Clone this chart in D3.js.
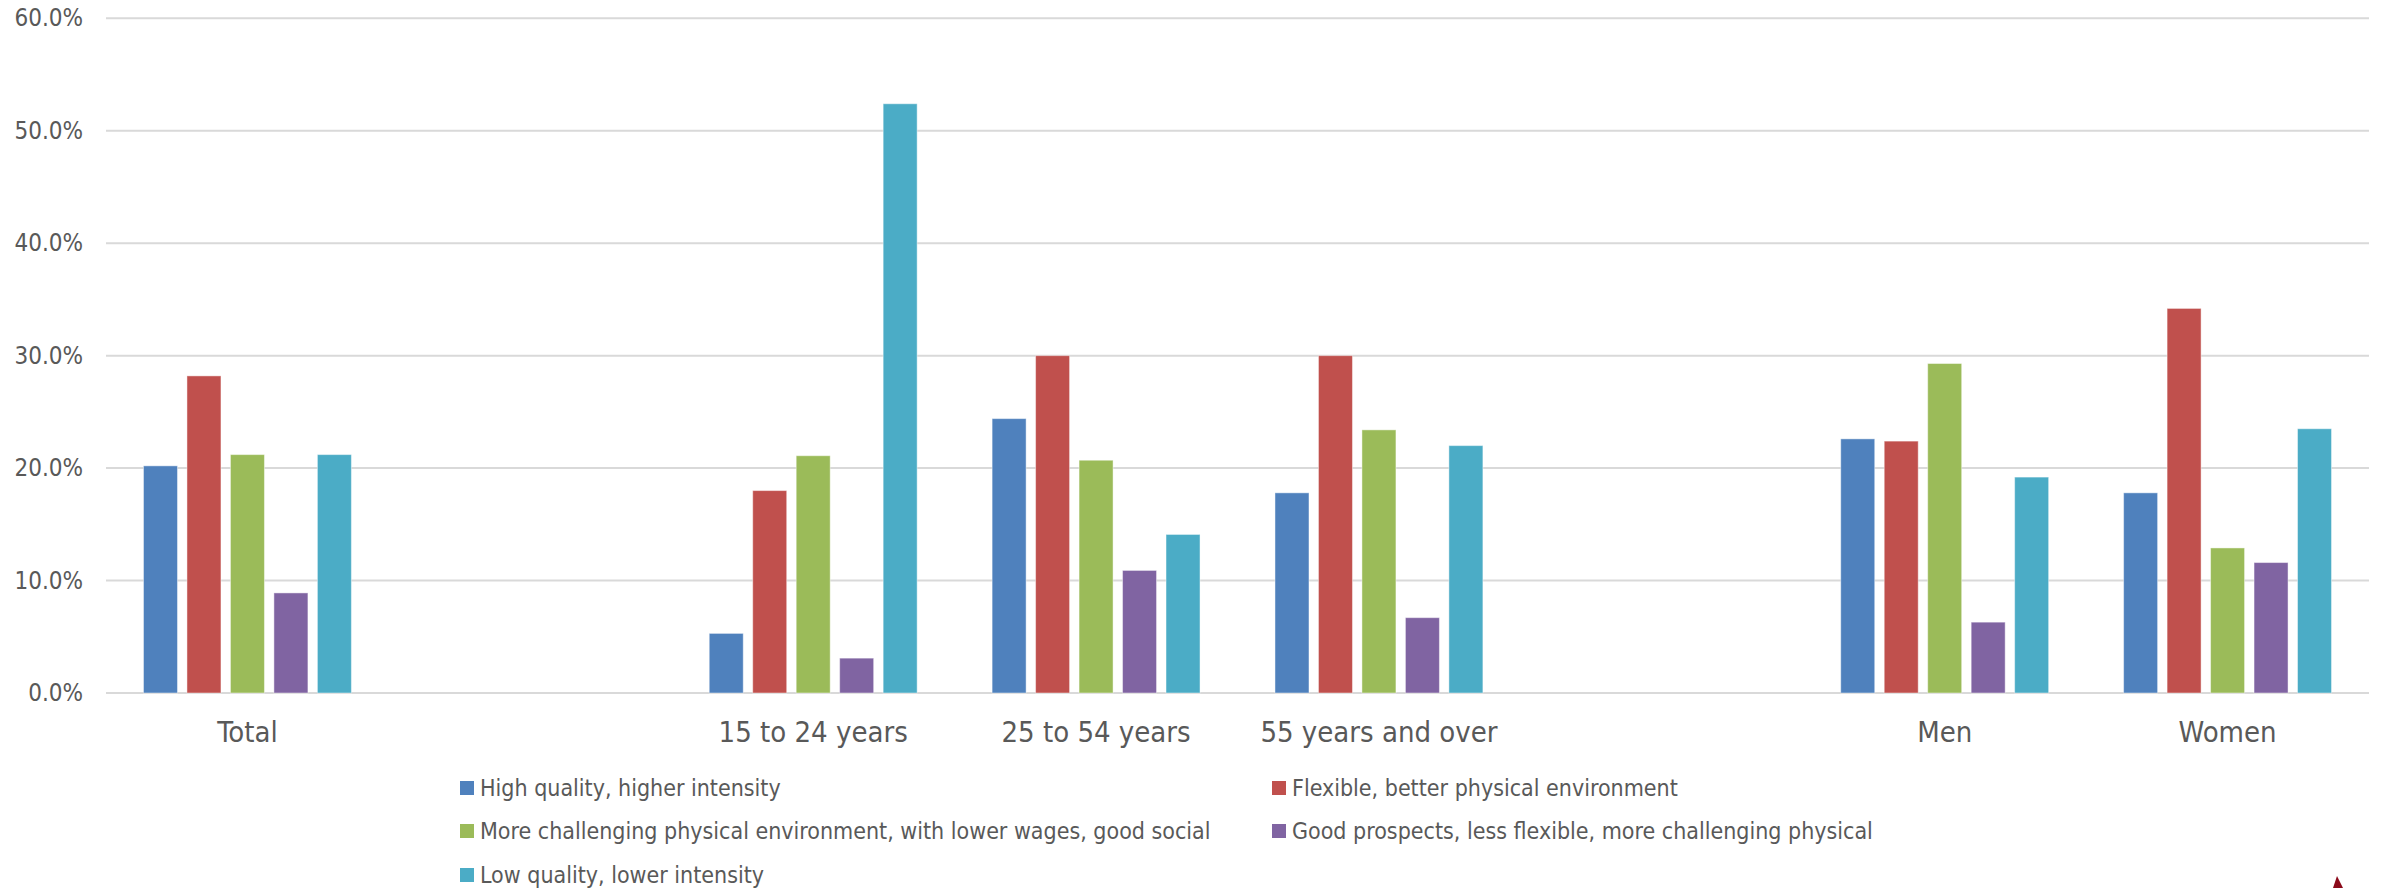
<!DOCTYPE html>
<html>
<head>
<meta charset="utf-8">
<script src="https://cdn.jsdelivr.net/npm/d3@7/dist/d3.min.js"></script>
<style>
  html, body { margin: 0; padding: 0; background: #ffffff; }
  svg { display: block; }
  text { font-family: "DejaVu Sans Condensed", "DejaVu Sans", sans-serif; font-stretch: condensed; fill: #595959; }
</style>
</head>
<body>
<script>
// Job-quality profiles by population group (share of workers, %)
const categories = ["Total", "", "15 to 24 years", "25 to 54 years", "55 years and over", " ", "Men", "Women"];
const seriesNames = [
  "High quality, higher intensity",
  "Flexible, better physical environment",
  "More challenging physical environment, with lower wages, good social",
  "Good prospects, less flexible, more challenging physical",
  "Low quality, lower intensity"
];
const seriesColors = ["#4F81BD", "#C0504D", "#9BBB59", "#8064A2", "#4BACC6"];

// one array per series, aligned with categories (null = empty slot)
const highQuality   = [20.2, null, 5.3, 24.4, 17.8, null, 22.6, 17.8];
const flexible      = [28.2, null, 18.0, 30.0, 30.0, null, 22.4, 34.2];
const challenging   = [21.2, null, 21.1, 20.7, 23.4, null, 29.3, 12.9];
const goodProspects = [8.9, null, 3.1, 10.9, 6.7, null, 6.3, 11.6];
const lowQuality    = [21.2, null, 52.4, 14.1, 22.0, null, 19.2, 23.5];
const seriesValues = [highQuality, flexible, challenging, goodProspects, lowQuality];

const yTicks = [0, 10, 20, 30, 40, 50, 60];

const W = 2384, H = 888;
const plot = { left: 106, right: 2369, top: 18.3, bottom: 693 };

const svg = d3.select("body").append("svg").attr("width", W).attr("height", H);

const x = d3.scaleBand().domain(categories).range([plot.left, plot.right]).paddingInner(0).paddingOuter(0);
const y = d3.scaleLinear().domain([0, 60]).range([plot.bottom, plot.top]);

// inner band for the five series inside each category
const groupWidth = x.bandwidth() * 0.735;
const xs = d3.scaleBand().domain(d3.range(seriesNames.length))
  .range([0, groupWidth]).paddingInner(0.218).paddingOuter(0);

// horizontal gridlines
svg.append("g").selectAll("line").data(yTicks).join("line")
  .attr("x1", plot.left).attr("x2", plot.right)
  .attr("y1", d => y(d)).attr("y2", d => y(d))
  .attr("stroke", "#d9d9d9").attr("stroke-width", 2);

// y axis labels
const yAxis = d3.axisLeft(y).tickValues(yTicks).tickFormat(d => d.toFixed(1) + "%").tickSize(0).tickPadding(0);
const gy = svg.append("g").attr("transform", `translate(${83},0)`).call(yAxis);
gy.select(".domain").remove();
gy.selectAll("text").attr("font-size", 24).attr("fill", "#595959")
  .style("font-family", '"DejaVu Sans Condensed", "DejaVu Sans", sans-serif');

// bars
seriesValues.forEach((vals, si) => {
  svg.append("g").selectAll("rect")
    .data(categories.map((c, i) => ({ c, v: vals[i] })).filter(d => d.v != null))
    .join("rect")
    .attr("x", d => x(d.c) + (x.bandwidth() - groupWidth) / 2 + xs(si))
    .attr("width", xs.bandwidth())
    .attr("y", d => y(d.v))
    .attr("height", d => y(0) - y(d.v))
    .attr("fill", seriesColors[si])
    .attr("stroke", "rgba(255,255,255,0.45)")
    .attr("stroke-width", 1);
});

// category labels
const xAxis = d3.axisBottom(x).tickSize(0).tickPadding(0);
const gx = svg.append("g").attr("transform", `translate(0,${742})`).call(xAxis);
gx.select(".domain").remove();
gx.selectAll("text").attr("font-size", 29).attr("fill", "#595959").attr("dy", "0")
  .style("font-family", '"DejaVu Sans Condensed", "DejaVu Sans", sans-serif');

// legend
const legendPos = [
  { x: 460, y: 788 }, { x: 1272, y: 788 },
  { x: 460, y: 831 }, { x: 1272, y: 831 },
  { x: 460, y: 875 }
];
const lg = svg.append("g").selectAll("g").data(seriesNames).join("g")
  .attr("transform", (d, i) => `translate(${legendPos[i].x},${legendPos[i].y})`);
lg.append("rect").attr("x", 0).attr("y", -7).attr("width", 14).attr("height", 14)
  .attr("fill", (d, i) => seriesColors[i]);
lg.append("text").attr("x", 20).attr("y", 0).attr("dy", "0.35em")
  .attr("font-size", 23).text(d => d);

// small corner marker
svg.append("path")
  .attr("d", "M2333,888 L2337,876 L2343,888 Z")
  .attr("fill", "#8b0a1a");
</script>
</body>
</html>
